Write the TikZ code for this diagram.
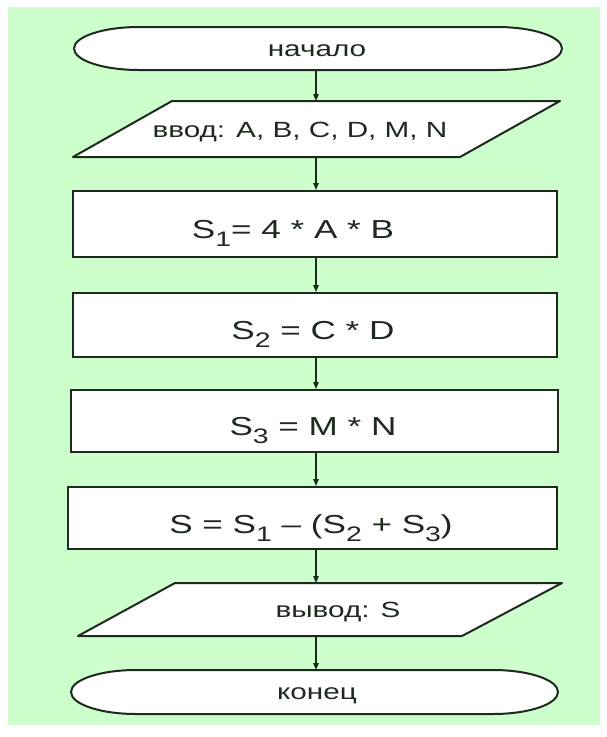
\documentclass[tikz,border=0pt]{standalone}
\usepackage{fontspec}
\setmainfont{Liberation Sans}[FakeStretch=1.35]
\usetikzlibrary{arrows.meta}
\definecolor{bggreen}{HTML}{CCFFCC}
\definecolor{ink}{HTML}{1E2A1E}
\newcommand{\lsub}[1]{\raisebox{-8pt}{\fontsize{21}{21}\selectfont #1}}
\begin{document}
\begin{tikzpicture}[x=1pt,y=-1pt,
  box/.style={draw=ink, line width=2pt, fill=white, rectangle, inner sep=0pt},
  frame/.style={draw=none, rectangle, inner sep=0pt, outer sep=0pt},
  outline/.style={draw=ink, line width=2pt, fill=white, line join=round},
  lbl/.style={text=ink, inner sep=0pt, anchor=base},
  small/.style={font=\fontsize{22}{22}\selectfont},
  big/.style={font=\fontsize{26}{26}\selectfont},
  flow/.style={draw=ink, line width=1.2pt, -{Triangle[length=7pt,width=5.5pt]}}]
\useasboundingbox (0,0) rectangle (607,737);
\fill[white] (0,0) rectangle (607,737);
\fill[bggreen] (8,7) rectangle (600,725);
\coordinate (ax) at (316,0);

% start
\node[frame, minimum width=488pt, minimum height=43pt] (start) at (318,48.5) {};
\draw[outline] ([xshift=65pt]start.north west) -- ([xshift=-65pt]start.north east)
  arc[start angle=90, end angle=-90, x radius=65pt, y radius=21.5pt]
  -- ([xshift=65pt]start.south west)
  arc[start angle=270, end angle=90, x radius=65pt, y radius=21.5pt] -- cycle;

% input
\node[frame, minimum width=487pt, minimum height=56pt] (in) at (316.5,129) {};
\draw[outline] (in.south west) -- ([xshift=99pt]in.north west) -- (in.north east)
  -- ([xshift=-100pt]in.south east) -- cycle;

% processes
\node[box, minimum width=484pt, minimum height=66pt] (s1) at (315,224) {};
\node[box, minimum width=484pt, minimum height=64pt] (s2) at (315,325) {};
\node[box, minimum width=487pt, minimum height=62pt] (s3) at (314.5,421) {};
\node[box, minimum width=489pt, minimum height=62pt] (s) at (312.5,518) {};

% output
\node[frame, minimum width=484pt, minimum height=53pt] (out) at (320,609.5) {};
\draw[outline] (out.south west) -- ([xshift=97pt]out.north west) -- (out.north east)
  -- ([xshift=-100pt]out.south east) -- cycle;

% end
\node[frame, minimum width=487pt, minimum height=44pt] (end) at (314.5,692) {};
\draw[outline] ([xshift=65pt]end.north west) -- ([xshift=-65pt]end.north east)
  arc[start angle=90, end angle=-90, x radius=65pt, y radius=22pt]
  -- ([xshift=65pt]end.south west)
  arc[start angle=270, end angle=90, x radius=65pt, y radius=22pt] -- cycle;

% texts
\node[lbl, small] (tstart) at (317,56) {начало};
\node[lbl, small] (tin) at (300,137) {ввод: A, B, C, D, M, N};
\node[lbl, big] (ts1) at (293,238) {S\lsub{1}= 4 * A * B};
\node[lbl, big] (ts2) at (313,339) {S\lsub{2} = C * D};
\node[lbl, big] (ts3) at (313,435) {S\lsub{3} = M * N};
\node[lbl, big] (ts) at (311,533) {S = S\lsub{1} – (S\lsub{2} + S\lsub{3})};
\node[lbl, small] (tout) at (338,617.5) {вывод: S};
\node[lbl, small] (tend) at (317,699) {конец};

% connectors
\draw[flow] (start.south -| ax) -- (in.north -| ax);
\draw[flow] (in.south -| ax) -- (s1.north -| ax);
\draw[flow] (s1.south -| ax) -- (s2.north -| ax);
\draw[flow] (s2.south -| ax) -- (s3.north -| ax);
\draw[flow] (s3.south -| ax) -- (s.north -| ax);
\draw[flow] (s.south -| ax) -- (out.north -| ax);
\draw[flow] (out.south -| ax) -- (end.north -| ax);
\end{tikzpicture}
\end{document}
